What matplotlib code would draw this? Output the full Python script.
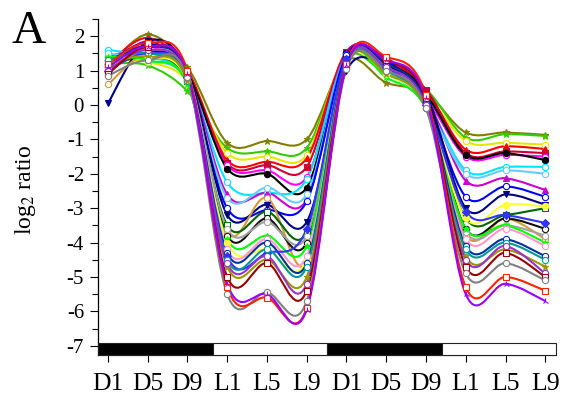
import numpy as np
import matplotlib
matplotlib.use('Agg')
import matplotlib.pyplot as plt
from matplotlib.path import Path
from matplotlib.patches import PathPatch, Rectangle
from matplotlib.ticker import MultipleLocator

# time points: dark days 1/5/9, light days 1/5/9, two cycles
time_labels = ['D1', 'D5', 'D9', 'L1', 'L5', 'L9', 'D1', 'D5', 'D9', 'L1', 'L5', 'L9']

# log2 ratios, top of the fan first
upper_genes = [
    [1.10, 2.05, 1.10, -1.10, -1.05, -1.00, 1.30, 0.65, 0.35, -0.80, -0.80, -0.87],
    [1.20, 1.15, 0.40, -1.25, -1.35, -1.25, 1.40, 0.90, 0.45, -0.95, -0.85, -0.90],
    [1.30, 1.25, 0.70, -1.40, -1.50, -1.45, 1.50, 0.90, 0.30, -1.05, -1.10, -1.15],
    [1.20, 1.95, 1.00, -1.60, -1.65, -1.55, 1.55, 1.30, 0.40, -1.30, -1.20, -1.28],
    [1.00, 1.85, 0.90, -1.70, -1.75, -1.80, 1.55, 1.35, 0.45, -1.40, -1.35, -1.40],
    [1.40, 1.60, 0.80, -1.75, -1.90, -2.10, 1.50, 1.10, 0.20, -1.50, -1.45, -1.50],
    [1.10, 1.50, 0.90, -1.85, -2.00, -2.40, 1.50, 1.20, 0.30, -1.45, -1.40, -1.60],
    [1.60, 1.40, 0.80, -2.25, -2.55, -2.15, 1.45, 0.95, 0.10, -1.90, -1.80, -1.80],
    [1.30, 1.70, 0.90, -2.60, -2.55, -2.75, 1.50, 1.25, 0.20, -2.20, -2.13, -2.47],
    [1.50, 1.30, 0.70, -2.70, -2.40, -2.60, 1.45, 1.00, 0.00, -2.00, -1.90, -2.00],
]
middle_genes = [
    [1.20, 1.80, 0.80, -3.00, -3.05, -2.80, 1.45, 1.30, 0.10, -2.67, -2.37, -2.67],
    [0.05, 1.85, 1.00, -3.20, -2.90, -3.40, 1.00, 1.10, 0.30, -3.00, -2.60, -2.90],
    [0.60, 1.50, 0.90, -3.70, -2.70, -4.60, 1.20, 0.90, 0.00, -3.80, -3.30, -3.90],
    [1.10, 1.40, 0.70, -3.50, -3.10, -3.70, 1.30, 1.00, 0.10, -3.30, -3.20, -3.00],
    [1.30, 1.60, 0.80, -3.80, -3.30, -4.00, 1.35, 1.20, 0.20, -3.60, -3.30, -3.60],
    [1.20, 1.50, 0.80, -3.60, -3.40, -3.80, 1.30, 1.10, 0.00, -3.70, -3.50, -3.80],
    [1.40, 1.30, 0.60, -3.90, -3.80, -4.10, 1.30, 0.80, -0.10, -3.60, -3.50, -4.00],
    [1.30, 1.40, 0.70, -4.00, -4.20, -4.50, 1.25, 0.90, 0.00, -3.30, -2.90, -2.95],
    [1.10, 1.60, 0.90, -4.20, -3.90, -4.40, 1.30, 1.10, 0.00, -3.90, -3.60, -4.10],
]
lower_genes = [
    [1.20, 1.70, 0.90, -4.30, -4.00, -4.60, 1.30, 1.20, 0.10, -4.10, -3.90, -4.40],
    [1.00, 1.50, 0.80, -4.40, -4.30, -3.60, 1.35, 1.10, 0.00, -3.10, -3.20, -3.43],
    [1.30, 1.50, 0.70, -4.50, -4.20, -4.70, 1.20, 1.00, -0.10, -4.20, -4.00, -4.50],
    [1.20, 1.40, 0.70, -4.70, -4.50, -5.00, 1.15, 0.90, -0.10, -4.40, -4.20, -4.70],
    [1.00, 1.60, 0.80, -4.60, -4.40, -5.20, 1.20, 1.10, 0.00, -4.50, -4.10, -4.90],
    [0.90, 1.70, 0.90, -5.00, -4.60, -5.40, 1.20, 1.30, 0.20, -4.70, -4.30, -5.00],
    [0.85, 1.30, 0.80, -5.50, -5.45, -5.70, 1.05, 1.00, -0.10, -4.90, -4.60, -5.10],
    [1.20, 1.80, 1.00, -5.30, -5.60, -5.90, 1.20, 1.40, 0.30, -5.30, -5.00, -5.40],
    [1.10, 1.70, 0.90, -5.20, -5.50, -5.95, 1.15, 1.30, 0.20, -5.50, -5.20, -5.70],
]

gene_colors = [
    '#808000', '#33cc00', '#e6e600', '#ff0000', '#cc0033', '#ff00ff', '#000000',
    '#00e5ff', '#cc00cc', '#66ccff',
    '#0000ff', '#000080', '#d69a3c', '#006600', '#111111', '#a0a0a0', '#00ff00',
    '#ffff33', '#ff99cc',
    '#003399', '#3333ff', '#009999', '#999900', '#9933cc', '#990000', '#808080',
    '#ff2200', '#9900ff',
]
gene_markers = [
    '*', '*', 'o', '^', 's', 'o', 'o', 'o', '^', 'o',
    'o', 'v', 'o', 's', 'o', 'o', '*', 'o', 'o',
    'o', 'D', 'o', '*', 'o', 's', 'o', 's', '2',
]
gene_open = [
    False, False, True, False, False, True, False, True, False, True,
    True, False, True, True, True, True, False, False, True,
    True, False, True, False, True, True, True, True, False,
]

bar_colors = ['black', 'white', 'black', 'white']


def smooth_path(xs, ys):
    # Catmull-Rom curve through the points as cubic Bezier segments
    pts = np.column_stack([xs, ys]).astype(float)
    n = len(pts)
    verts = [pts[0]]
    codes = [Path.MOVETO]
    for i in range(n - 1):
        p_prev = pts[i - 1] if i > 0 else pts[i]
        p_next = pts[i + 2] if i + 2 < n else pts[i + 1]
        c1 = pts[i] + (pts[i + 1] - p_prev) / 6.0
        c2 = pts[i + 1] - (p_next - pts[i]) / 6.0
        verts += [c1, c2, pts[i + 1]]
        codes += [Path.CURVE4] * 3
    return Path(verts, codes)


plt.rcParams['font.family'] = ['Liberation Serif', 'DejaVu Serif']
plt.rcParams['mathtext.fontset'] = 'stix'
plt.rcParams['axes.unicode_minus'] = False

fig = plt.figure(figsize=(5.63, 3.98), dpi=100)
ax = fig.add_axes([98 / 563, 1 - 355 / 398, 458 / 563, 336 / 398])

x = np.arange(len(time_labels))
all_genes = upper_genes + middle_genes + lower_genes
for vals, col, mk, hollow in zip(all_genes, gene_colors, gene_markers, gene_open):
    ax.add_patch(PathPatch(smooth_path(x, vals), fill=False, edgecolor=col, lw=1.5))
    ax.plot(x, vals, ls='none', marker=mk, ms=4.5, mec=col,
            mfc='white' if hollow else col, mew=0.8)

xmin, xmax = -0.25, 11.27
ymin, ymax = -7.27, 2.5
seg = (xmax - xmin) / len(bar_colors)
for k, c in enumerate(bar_colors):
    ax.add_patch(Rectangle((xmin + k * seg, ymin), seg, 0.35, facecolor=c,
                           edgecolor='#222222', lw=0.8, zorder=5, clip_on=False))

ax.set_xlim(xmin, xmax)
ax.set_ylim(ymin, ymax)
ax.set_xticks(x)
ax.set_xticklabels(time_labels)
ax.set_yticks(range(-7, 3))
ax.yaxis.set_minor_locator(MultipleLocator(0.5))

ax.spines['top'].set_visible(False)
ax.spines['right'].set_visible(False)
ax.spines['left'].set_linewidth(0.9)
ax.spines['bottom'].set_linewidth(0.8)

ax.tick_params(axis='x', direction='out', length=5, width=0.8, pad=8, labelsize=18.5)
ax.tick_params(axis='y', which='major', direction='out', length=6, width=0.8,
               pad=4, labelsize=15)
ax.tick_params(axis='y', which='minor', direction='out', length=4, width=0.8)

fig.text(25 / 563, 1 - 190 / 398, 'log$_2$ ratio', rotation=90, fontsize=17,
         ha='center', va='center')
fig.text(12 / 563, 1 - 43 / 398, 'A', fontsize=34, va='baseline', ha='left')

fig.savefig('out.png', dpi=100)
